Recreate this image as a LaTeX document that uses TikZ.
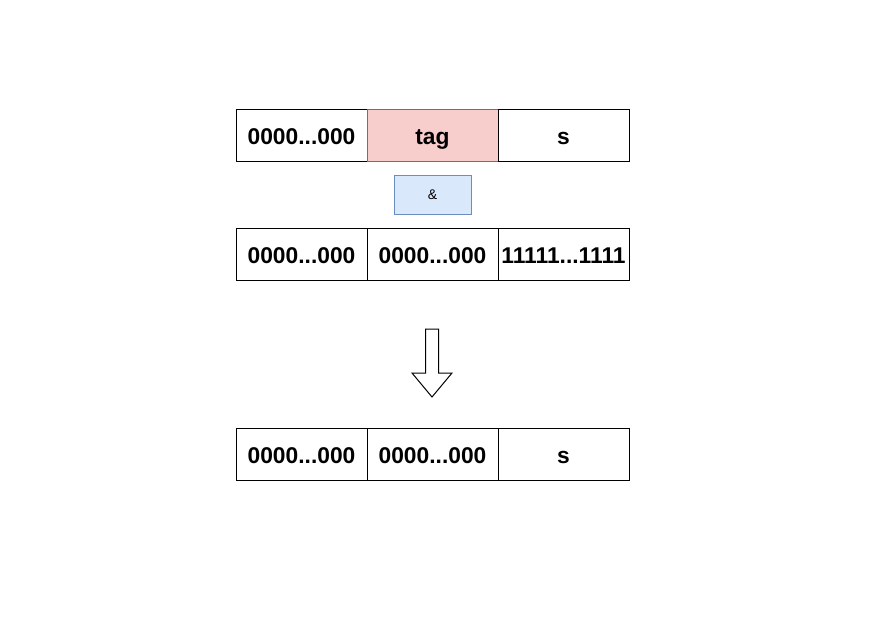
\documentclass[tikz,border=0pt]{standalone}
\usepackage{fontspec}
\setmainfont{Liberation Sans}
\definecolor{tagred}{HTML}{F8CECC}
\definecolor{tagline}{HTML}{B85450}
\definecolor{opblue}{HTML}{DAE8FC}
\definecolor{opline}{HTML}{6C8EBF}
\tikzset{
  cell/.style={draw,line width=1pt,minimum width=131pt,minimum height=52pt,inner sep=0pt,
    text height=18pt,text depth=0pt,font=\fontsize{22.8}{24}\selectfont\bfseries},
  opbox/.style={draw=opline,fill=opblue,line width=1pt,minimum width=77pt,minimum height=39pt,
    inner sep=0pt,text height=10pt,text depth=0pt,font=\fontsize{14}{16}\selectfont}
}
\begin{document}
\begin{tikzpicture}[x=1pt,y=-1pt]
\useasboundingbox (0,0) rectangle (878,625);

% input word
\node[cell] (a1) at (301.5,135) {0000...000};
\node[cell,fill=tagred,draw=tagline] (a2) at (432.5,135) {tag};
\node[cell] (a3) at (563.5,135) {s};

\node[opbox] (and) at (432.5,194.5) {\&};

% mask
\node[cell] (m1) at (301.5,254) {0000...000};
\node[cell] (m2) at (432.5,254) {0000...000};
\node[cell] (m3) at (563.5,254) {11111...1111};

% result arrow
\draw[line width=1pt] (425.5,329) -- (438.5,329) -- (438.5,373) -- (452,373) -- (432,397)
  -- (412,373) -- (425.5,373) -- cycle;

% result
\node[cell] (r1) at (301.5,454) {0000...000};
\node[cell] (r2) at (432.5,454) {0000...000};
\node[cell] (r3) at (563.5,454) {s};
\end{tikzpicture}
\end{document}
